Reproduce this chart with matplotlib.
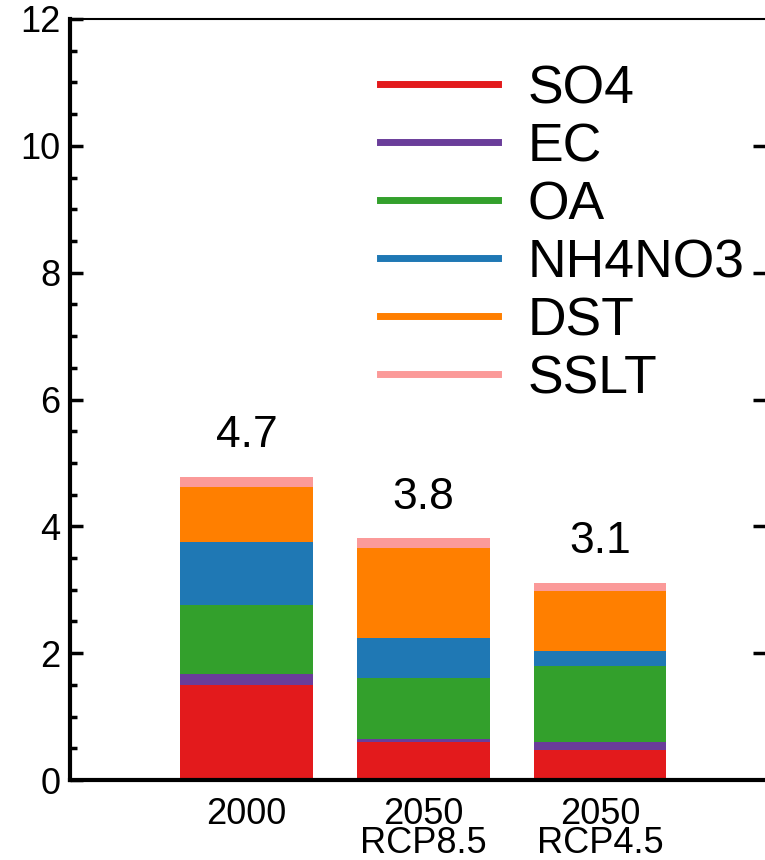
import matplotlib
matplotlib.use("Agg")
import matplotlib.pyplot as plt
from matplotlib.lines import Line2D
from matplotlib.ticker import MultipleLocator
import numpy as np

plt.rcParams['font.family'] = ['Liberation Sans', 'DejaVu Sans']

# values
scenarios = ["2000", "2050\nRCP8.5", "2050\nRCP4.5"]
species = ["SO4", "EC", "OA", "NH4NO3", "DST", "SSLT"]
colors = ["#e31a1c", "#6a3d9a", "#33a02c", "#1f78b4", "#ff7f00", "#fb9a99"]
so4 = [1.50, 0.60, 0.48]
ec = [0.17, 0.04, 0.12]
oa = [1.09, 0.97, 1.19]
nh4no3 = [0.99, 0.63, 0.24]
dst = [0.87, 1.42, 0.95]
sslt = [0.16, 0.15, 0.13]
total_labels = ["4.7", "3.8", "3.1"]

fig = plt.figure(figsize=(7.65, 8.6), dpi=100)
# axes runs past the right edge of the picture (cropped panel)
ax = fig.add_axes([70 / 765, 80 / 860, 795 / 765, 761 / 860])

x = np.arange(len(scenarios))
bottom = np.zeros(len(scenarios))
for vals, c in zip([so4, ec, oa, nh4no3, dst, sslt], colors):
    ax.bar(x, vals, width=0.75, bottom=bottom, color=c, edgecolor='none')
    bottom += np.array(vals)

for xi, tot, lab in zip(x, bottom, total_labels):
    ax.annotate(lab, (xi, tot), xytext=(0, 21.5), textcoords='offset points',
                ha='center', va='baseline', fontsize=32)

ax.set_xlim(-1, 3.5)
ax.set_ylim(0, 12)
ax.set_xticks(x)
ax.set_xticklabels(scenarios, fontsize=26, linespacing=0.8)
ax.set_yticks(np.arange(0, 13, 2))
ax.yaxis.set_minor_locator(MultipleLocator(0.5))
ax.tick_params(axis='y', which='major', direction='in', length=9, width=2.5,
               labelsize=26, pad=7)
ax.tick_params(axis='y', which='minor', direction='in', length=5, width=2.5)
ax.tick_params(axis='x', length=0, pad=12)

ax.spines['left'].set_linewidth(3)
ax.spines['bottom'].set_linewidth(3)
ax.spines['top'].set_linewidth(1.5)
ax.spines['right'].set_visible(False)

# stray ticks from the neighbouring panel
sec = ax.secondary_yaxis((753 - 70) / 795)
sec.set_yticks([2, 4, 6, 8, 10])
sec.set_yticklabels([])
sec.tick_params(direction='out', length=9, width=2.5)
sec.spines['left'].set_visible(False)
sec.spines['right'].set_visible(False)

handles = [Line2D([], [], color=c, lw=5) for c in colors]
fig.legend(handles, species, loc='upper left',
           bbox_to_anchor=(380 / 765, 1 - 64 / 860), bbox_transform=fig.transFigure,
           frameon=False, fontsize=38.5, handlelength=2.2, handletextpad=0.56,
           labelspacing=0.15, borderpad=0, borderaxespad=0)

fig.savefig("out.png", dpi=100)
